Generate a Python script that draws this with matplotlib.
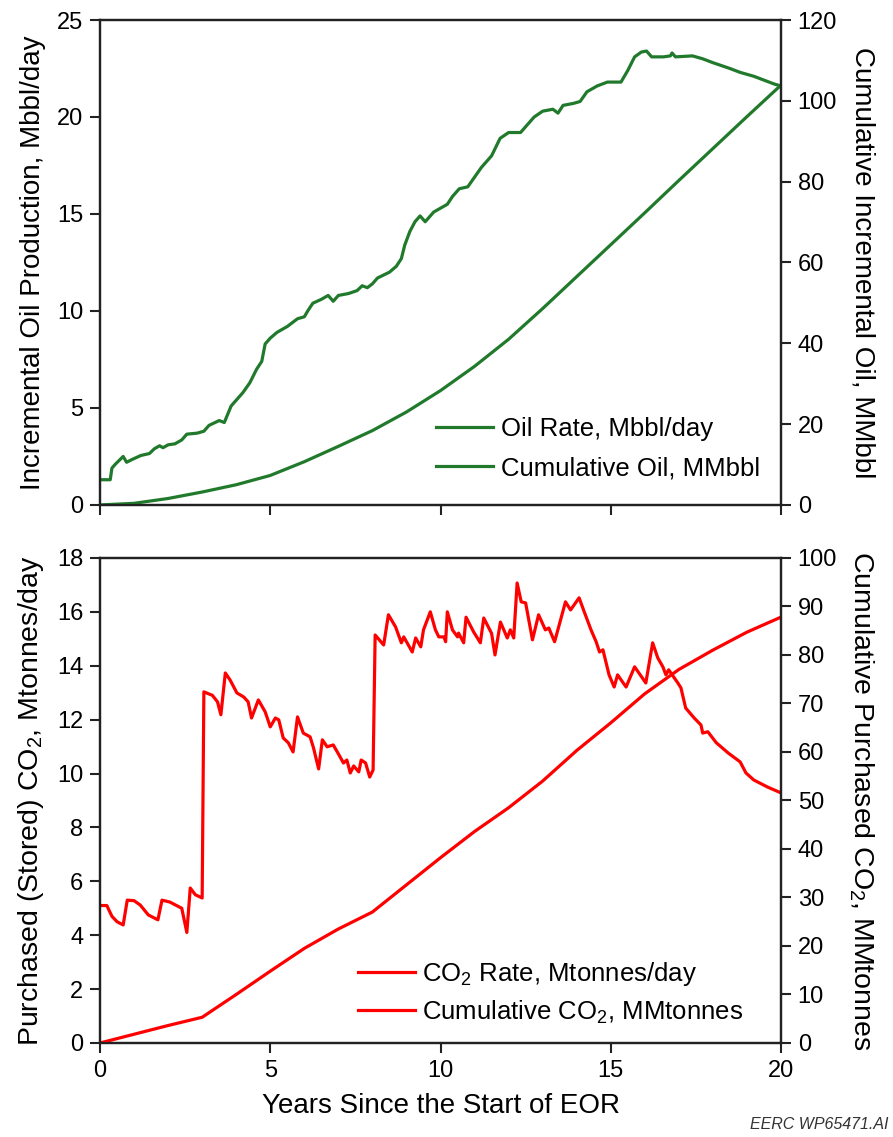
import matplotlib
matplotlib.use("Agg")
import matplotlib.pyplot as plt
import numpy as np

plt.rcParams['font.family'] = ['Liberation Sans', 'DejaVu Sans']
plt.rcParams['mathtext.fontset'] = 'custom'
plt.rcParams['mathtext.rm'] = 'Liberation Sans'

# incremental oil rate, Mbbl/day
oil_years = [0, 0.3, 0.35, 0.45, 0.68, 0.78, 0.95, 1.2, 1.45, 1.6, 1.75, 1.85, 2.0, 2.2,
             2.4, 2.55, 2.85, 3.05, 3.2, 3.5, 3.65, 3.85, 4.05, 4.2, 4.4, 4.6, 4.75, 4.85,
             5.0, 5.2, 5.5, 5.8, 6.0, 6.1, 6.25, 6.5, 6.7, 6.85, 7.0, 7.3, 7.55, 7.7, 7.85,
             8.0, 8.15, 8.5, 8.7, 8.85, 8.95, 9.1, 9.25, 9.4, 9.55, 9.8, 10.2, 10.35, 10.55,
             10.8, 11.0, 11.2, 11.5, 11.75, 12.0, 12.35, 12.5, 12.75, 13.0, 13.3, 13.45,
             13.6, 13.9, 14.1, 14.3, 14.6, 14.9, 15.3, 15.5, 15.7, 15.9, 16.05, 16.2, 16.55,
             16.75, 16.8, 16.9, 17.4, 17.7, 18.0, 18.5, 18.8, 19.2, 19.5, 19.8, 20.0]
oil_rate = [1.3, 1.3, 1.9, 2.1, 2.5, 2.2, 2.35, 2.55, 2.65, 2.9, 3.05, 2.95, 3.1, 3.15,
            3.35, 3.65, 3.7, 3.8, 4.1, 4.35, 4.25, 5.1, 5.5, 5.8, 6.3, 7.0, 7.4, 8.3,
            8.6, 8.9, 9.2, 9.6, 9.7, 10.0, 10.4, 10.6, 10.8, 10.5, 10.8, 10.9, 11.05, 11.3,
            11.2, 11.4, 11.7, 12.0, 12.3, 12.7, 13.4, 14.1, 14.6, 14.9, 14.6, 15.1, 15.5,
            15.9, 16.3, 16.4, 16.9, 17.4, 18.0, 18.9, 19.2, 19.2, 19.5, 20.0, 20.3, 20.4,
            20.2, 20.6, 20.7, 20.8, 21.3, 21.6, 21.8, 21.8, 22.4, 23.1, 23.35, 23.4, 23.1,
            23.1, 23.15, 23.3, 23.1, 23.15, 23.0, 22.8, 22.5, 22.3, 22.1, 21.9, 21.7, 21.6]

# cumulative incremental oil, MMbbl
cum_oil_years = [0, 1, 2, 3, 4, 5, 6, 7, 8, 9, 10, 11, 12, 13, 14, 15, 16, 17, 18, 19, 20]
cum_oil = [0, 0.4, 1.6, 3.2, 5.0, 7.3, 10.7, 14.5, 18.4, 23.0, 28.3, 34.3, 41.0, 48.6,
           56.5, 64.4, 72.3, 80.3, 88.2, 96.1, 103.9]

# purchased CO2 rate, Mtonnes/day
co2_years = [0.0, 0.2, 0.35, 0.5, 0.68, 0.8, 1.0, 1.18, 1.42, 1.7, 1.82, 2.05, 2.4, 2.55,
             2.65, 2.8, 3.0, 3.05, 3.3, 3.45, 3.55, 3.68, 3.82, 4.02, 4.22, 4.35, 4.45,
             4.65, 4.85, 5.0, 5.15, 5.25, 5.38, 5.53, 5.67, 5.8, 5.97, 6.17, 6.27, 6.42,
             6.53, 6.67, 6.85, 7.0, 7.15, 7.25, 7.35, 7.45, 7.6, 7.67, 7.8, 7.92, 8.02,
             8.08, 8.33, 8.47, 8.68, 8.85, 8.92, 9.17, 9.27, 9.42, 9.5, 9.7, 9.85, 9.95,
             10.1, 10.15, 10.2, 10.35, 10.5, 10.53, 10.68, 10.75, 10.97, 11.17, 11.27,
             11.5, 11.6, 11.76, 11.96, 12.05, 12.15, 12.25, 12.37, 12.5, 12.7, 12.88,
             13.08, 13.18, 13.35, 13.47, 13.67, 13.82, 14.07, 14.2, 14.42, 14.57, 14.67,
             14.77, 14.95, 15.1, 15.2, 15.45, 15.7, 16.03, 16.23, 16.38, 16.53, 16.62,
             16.7, 16.97, 17.06, 17.2, 17.45, 17.65, 17.7, 17.85, 18.1, 18.45, 18.8,
             18.97, 19.2, 19.6, 20.0]
co2_rate = [5.1, 5.1, 4.7, 4.5, 4.38, 5.3, 5.28, 5.12, 4.75, 4.57, 5.3, 5.23, 5.0, 4.1,
            5.75, 5.5, 5.38, 13.03, 12.9, 12.66, 12.18, 13.73, 13.47, 12.99, 12.84, 12.66,
            12.06, 12.73, 12.29, 11.73, 12.06, 11.99, 11.32, 11.14, 10.8, 12.1, 11.5,
            11.36, 10.95, 10.17, 11.25, 10.99, 11.06, 10.73, 10.39, 10.5, 10.02, 10.28,
            10.06, 10.5, 10.39, 9.87, 10.13, 15.14, 14.77, 15.89, 15.44, 14.85, 15.07,
            14.51, 15.03, 14.7, 15.33, 16.0, 15.33, 15.07, 15.07, 14.89, 16.0, 15.33,
            15.07, 15.21, 14.85, 15.8, 15.26, 14.85, 15.77, 15.2, 14.4, 15.62, 15.03,
            15.33, 15.03, 17.07, 16.37, 16.33, 14.96, 15.89, 15.33, 15.4, 14.89, 15.44,
            16.37, 16.07, 16.52, 16.07, 15.33, 14.89, 14.51, 14.59, 13.66, 13.21, 13.66,
            13.21, 13.96, 13.36, 14.85, 14.29, 13.96, 13.66, 13.85, 13.36, 13.18, 12.43,
            12.06, 11.8, 11.5, 11.55, 11.14, 10.76, 10.43, 10.02, 9.76, 9.5, 9.28]

# cumulative purchased CO2, MMtonnes
cum_co2_years = [0, 1, 2, 3, 4, 5, 6, 7, 8, 9, 10, 11, 12, 13, 14, 15, 16, 17, 18, 19, 20]
cum_co2 = [0, 1.8, 3.6, 5.3, 10.0, 14.8, 19.5, 23.5, 27.0, 32.6, 38.2, 43.6, 48.5, 54.0,
           60.3, 66.0, 72.0, 77.0, 81.0, 84.7, 87.8]

green = '#217a2c'
red = '#ff0000'
dark = '#222222'
lw = 2.3

fig = plt.figure(figsize=(8.93, 11.37), dpi=100)
ax1 = fig.add_axes([0.112, 0.5559, 0.7626, 0.4265])
ax2 = fig.add_axes([0.112, 0.0827, 0.7626, 0.4266])


def style(ax, tw):
    for s in ax.spines.values():
        s.set_color(dark)
        s.set_linewidth(1.6)
    ax.tick_params(direction='out', length=7, width=1.5, color=dark, labelsize=17,
                   pad=5)
    tw.tick_params(direction='out', length=7, width=1.5, color=dark, labelsize=17,
                   pad=5)
    for s in tw.spines.values():
        s.set_color(dark)
        s.set_linewidth(1.6)
    ax.set_xlim(0, 20)
    ax.set_xticks([0, 5, 10, 15, 20])


# top panel: oil
ax1t = ax1.twinx()
style(ax1, ax1t)
l1, = ax1.plot(oil_years, oil_rate, color=green, lw=lw, label='Oil Rate, Mbbl/day')
l2, = ax1t.plot(cum_oil_years, cum_oil, color=green, lw=lw, label='Cumulative Oil, MMbbl')
ax1.set_ylim(0, 25)
ax1.set_yticks([0, 5, 10, 15, 20, 25])
ax1t.set_ylim(0, 120)
ax1t.set_yticks([0, 20, 40, 60, 80, 100, 120])
ax1.tick_params(axis='x', labelbottom=False)
ax1.set_ylabel('Incremental Oil Production, Mbbl/day', fontsize=20, labelpad=8)
ax1t.set_ylabel('Cumulative Incremental Oil, MMbbl', fontsize=20, rotation=-90,
                labelpad=28)
ax1.legend(handles=[l1, l2], loc='lower left', bbox_to_anchor=(0.46, 0.003),
           frameon=False, fontsize=18.5, handlelength=2.2, handletextpad=0.3,
           labelspacing=0.6)

# bottom panel: CO2
ax2t = ax2.twinx()
style(ax2, ax2t)
l3, = ax2.plot(co2_years, co2_rate, color=red, lw=lw,
               label='CO$\\mathregular{_2}$ Rate, Mtonnes/day')
l4, = ax2t.plot(cum_co2_years, cum_co2, color=red, lw=lw,
                label='Cumulative CO$\\mathregular{_2}$, MMtonnes')
ax2.set_ylim(0, 18)
ax2.set_yticks(np.arange(0, 19, 2))
ax2t.set_ylim(0, 100)
ax2t.set_yticks(np.arange(0, 101, 10))
ax2.set_ylabel('Purchased (Stored) CO$\\mathregular{_2}$, Mtonnes/day', fontsize=20.5,
               labelpad=8)
ax2t.set_ylabel('Cumulative Purchased CO$\\mathregular{_2}$, MMtonnes', fontsize=20.5,
                rotation=-90, labelpad=28)
ax2.set_xlabel('Years Since the Start of EOR', fontsize=20, labelpad=8)
ax2.legend(handles=[l3, l4], loc='lower left', bbox_to_anchor=(0.345, -0.012),
           frameon=False, fontsize=18.5, handlelength=2.2, handletextpad=0.3,
           labelspacing=0.4)

fig.text(0.995, 0.004, 'EERC WP65471.AI', ha='right', va='bottom', fontsize=11.5,
         style='italic', color='#333333')

fig.savefig('out.png', dpi=100)
